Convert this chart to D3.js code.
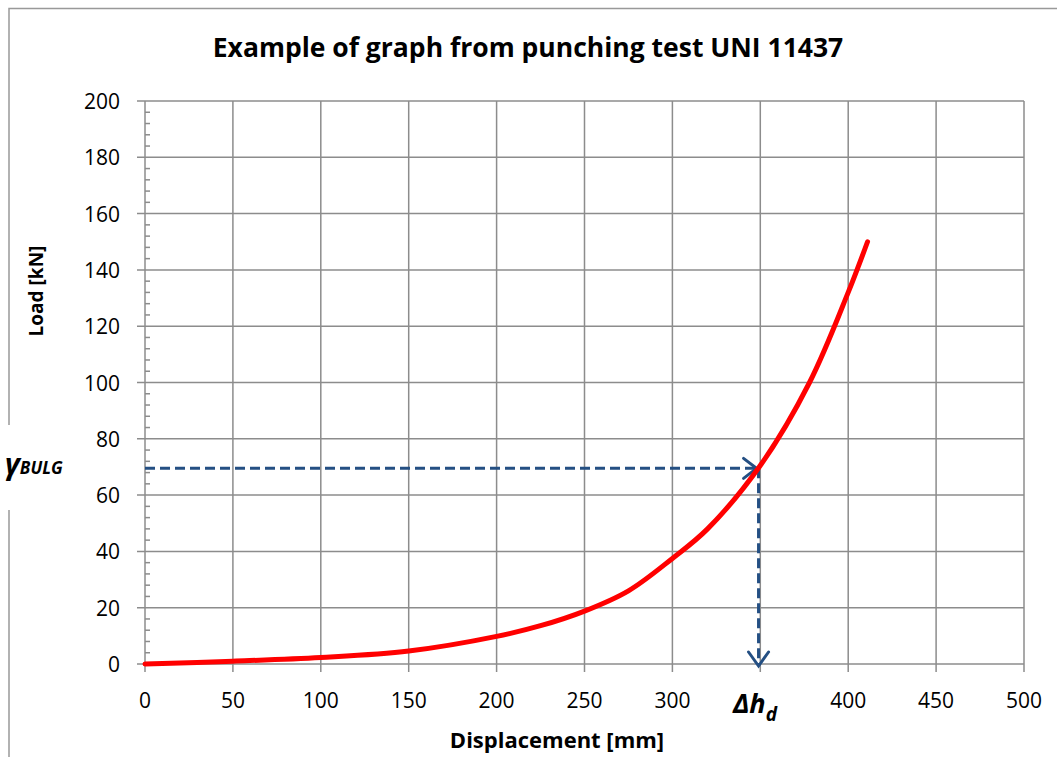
<!DOCTYPE html>
<html>
<head>
<meta charset="utf-8">
<script src="https://cdn.jsdelivr.net/npm/d3@7"></script>
<style>
  body { margin: 0; background: #fff; }
  svg text { font-family: "Open Sans", sans-serif; }
</style>
</head>
<body>
<svg id="chart" width="1057" height="757"></svg>
<script>
// load-displacement curve
let displacement = [0, 50, 100, 150, 200, 225, 250, 275, 300, 320, 350, 378, 400, 411];
let load = [0, 1, 2.3, 4.6, 9.8, 13.6, 18.8, 26, 37.5, 48, 70.5, 100, 132, 150];

let xTicks = [0, 50, 100, 150, 200, 250, 300, 350, 400, 450, 500];
let yTicks = [0, 20, 40, 60, 80, 100, 120, 140, 160, 180, 200];

// reading point for the dashed arrows
let bulgPoint = { x: 349, y: 69.5 };

let svg = d3.select('#chart');

let margin = {top: 101, left: 145},
    width = 879,
    height = 563;

let x = d3.scaleLinear().domain([0, 500]).range([0, width]);
let y = d3.scaleLinear().domain([0, 200]).range([height, 0]);

const gridColor = '#8c8c8c',
      dashColor = '#244f83';

// outer border (left edge is broken by the gamma label)
svg.append('path')
  .attr('d', 'M9,757 V510 M9,425 V8.5 H1057')
  .attr('fill', 'none')
  .attr('stroke', '#999')
  .attr('stroke-width', 1.5);

svg.append('text')
  .text('Example of graph from punching test UNI 11437')
  .attr('x', 528)
  .attr('y', 57)
  .attr('text-anchor', 'middle')
  .attr('font-size', 26.5)
  .attr('font-weight', 'bold');

let g = svg.append('g')
  .attr('transform', `translate(${margin.left},${margin.top})`);

// grid
g.append('g')
  .selectAll('line')
  .data(yTicks)
  .enter().append('line')
  .attr('x1', -8)
  .attr('x2', width)
  .attr('y1', (d) => y(d))
  .attr('y2', (d) => y(d))
  .attr('stroke', gridColor)
  .attr('stroke-width', 1.5);

g.append('g')
  .selectAll('line')
  .data(xTicks)
  .enter().append('line')
  .attr('x1', (d) => x(d))
  .attr('x2', (d) => x(d))
  .attr('y1', 0)
  .attr('y2', height + 8)
  .attr('stroke', gridColor)
  .attr('stroke-width', 1.5);

// minor ticks on the y axis
let minor = d3.range(0, 200, 4).filter((d) => d % 20 !== 0);
g.append('g')
  .selectAll('line')
  .data(minor)
  .enter().append('line')
  .attr('x1', 0)
  .attr('x2', 5)
  .attr('y1', (d) => y(d))
  .attr('y2', (d) => y(d))
  .attr('stroke', gridColor)
  .attr('stroke-width', 1.5);

// tick labels
g.append('g')
  .selectAll('text')
  .data(yTicks)
  .enter().append('text')
  .text((d) => d)
  .attr('x', -25)
  .attr('y', (d) => y(d) + 8)
  .attr('text-anchor', 'end')
  .attr('font-size', 21);

// the 350 label is covered by the Δh_d annotation
g.append('g')
  .selectAll('text')
  .data(xTicks.filter((d) => d !== 350))
  .enter().append('text')
  .text((d) => d)
  .attr('x', (d) => x(d))
  .attr('y', height + 44)
  .attr('text-anchor', 'middle')
  .attr('font-size', 21);

// axis titles
svg.append('text')
  .text('Load [kN]')
  .attr('transform', 'translate(43,291)rotate(-90)')
  .attr('text-anchor', 'middle')
  .attr('font-size', 19)
  .attr('font-weight', 'bold');

svg.append('text')
  .text('Displacement [mm]')
  .attr('x', 557)
  .attr('y', 748)
  .attr('text-anchor', 'middle')
  .attr('font-size', 22)
  .attr('font-weight', 'bold');

// dashed guide lines with open arrowheads
let px = x(bulgPoint.x),
    py = y(bulgPoint.y);

let dashes = g.append('g')
  .attr('stroke', dashColor)
  .attr('fill', 'none')
  .attr('stroke-width', 3);

dashes.append('line')
  .attr('x1', 0).attr('x2', px - 2)
  .attr('y1', py).attr('y2', py)
  .attr('stroke-dasharray', '10,5');

dashes.append('line')
  .attr('x1', px).attr('x2', px)
  .attr('y1', py).attr('y2', y(0) + 2)
  .attr('stroke-dasharray', '10,5');

dashes.append('path')
  .attr('d', `M${px - 15},${py - 10} L${px - 2},${py} L${px - 15},${py + 10}`)
  .attr('stroke-linecap', 'round');

dashes.append('path')
  .attr('d', `M${px - 10},${y(0) - 12} L${px},${y(0) + 2} L${px + 10},${y(0) - 12}`)
  .attr('stroke-linecap', 'round');

// curve
let line = d3.line()
  .x((d, i) => x(displacement[i]))
  .y((d) => y(d))
  .curve(d3.curveCatmullRom.alpha(0.5));

g.append('path')
  .datum(load)
  .attr('d', line)
  .attr('fill', 'none')
  .attr('stroke', '#ff0000')
  .attr('stroke-width', 5)
  .attr('stroke-linecap', 'round');

// annotation labels
let gl = svg.append('text')
  .attr('x', 5)
  .attr('y', 474)
  .attr('font-weight', 'bold')
  .attr('font-style', 'italic');
gl.append('tspan').text('γ').attr('font-size', 29);
gl.append('tspan').text('BULG').attr('font-size', 17);

let dh = svg.append('text')
  .attr('x', 733)
  .attr('y', 713)
  .attr('font-weight', 'bold')
  .attr('font-style', 'italic');
dh.append('tspan').text('Δh').attr('font-size', 27);
dh.append('tspan').text('d').attr('font-size', 19).attr('dy', 8);
</script>
</body>
</html>
